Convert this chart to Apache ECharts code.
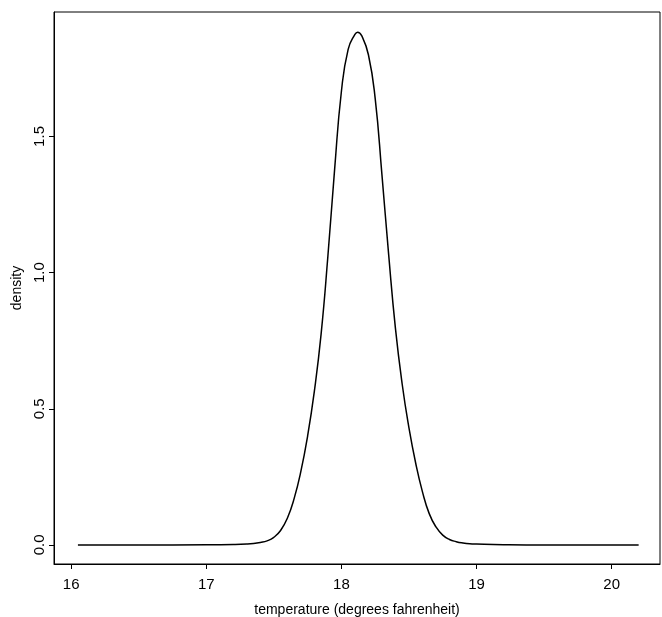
<!DOCTYPE html>
<html>
<head>
<meta charset="utf-8">
<script src="https://cdn.jsdelivr.net/npm/echarts@6/dist/echarts.min.js"></script>
<style>
  html, body { margin: 0; padding: 0; background: #fff; }
  #chart { width: 662px; height: 617px; }
</style>
</head>
<body>
<div id="chart"></div>
<script>
  // density curve
  var temps = [16.05, 16.5, 17.0, 17.2, 17.3, 17.35, 17.4, 17.45, 17.5, 17.55, 17.6, 17.65, 17.7, 17.75,
    17.8, 17.85, 17.9, 17.95, 18.0, 18.05, 18.1, 18.12, 18.15, 18.2, 18.25, 18.3, 18.35, 18.4,
    18.45, 18.5, 18.55, 18.6, 18.65, 18.7, 18.75, 18.8, 18.85, 18.9, 18.95, 19.0, 19.2, 19.5, 20.2];
  var density = [0, 0, 0.0005, 0.0015, 0.003, 0.005, 0.009, 0.015, 0.028, 0.053, 0.098, 0.170, 0.270, 0.400,
    0.565, 0.775, 1.060, 1.380, 1.665, 1.820, 1.875, 1.883, 1.870, 1.800, 1.640, 1.360, 1.065, 0.795,
    0.590, 0.430, 0.300, 0.195, 0.115, 0.066, 0.036, 0.020, 0.012, 0.007, 0.004, 0.003, 0.001, 0, 0];
  var xTicks = [16, 17, 18, 19, 20];
  var yTicks = [0, 0.5, 1.0, 1.5];

  var font = "'Liberation Sans', Arial, Helvetica, sans-serif";
  var chart = echarts.init(document.getElementById('chart'));

  chart.setOption({
    animation: false,
    grid: {
      left: 54, top: 12, right: 2, bottom: 53,
      outerBoundsMode: 'none',
      show: true, borderColor: '#000', borderWidth: 1
    },
    xAxis: {
      type: 'value',
      min: 15.873, max: 20.358,
      name: 'temperature (degrees fahrenheit)',
      nameLocation: 'middle',
      nameGap: 39,
      nameTextStyle: { color: '#000', fontFamily: font, fontSize: 14 },
      axisLine: { show: true, onZero: false, lineStyle: { color: '#000', width: 1 } },
      axisTick: { show: true, length: 5, customValues: xTicks, lineStyle: { color: '#000' } },
      axisLabel: { customValues: xTicks, color: '#000', fontFamily: font, fontSize: 15, margin: 13 },
      splitLine: { show: false }
    },
    yAxis: {
      type: 'value',
      min: -0.07, max: 1.957,
      name: 'density',
      nameLocation: 'middle',
      nameGap: 27,
      nameTextStyle: { color: '#000', fontFamily: font, fontSize: 14 },
      axisLine: { show: true, onZero: false, lineStyle: { color: '#000', width: 1 } },
      axisTick: { show: true, length: 5, customValues: yTicks, lineStyle: { color: '#000' } },
      axisLabel: {
        customValues: yTicks, rotate: 90, color: '#000', fontFamily: font, fontSize: 15, margin: 7,
        formatter: function (v) { return v.toFixed(1); }
      },
      splitLine: { show: false }
    },
    series: [{
      type: 'line',
      data: temps.map(function (t, i) { return [t, density[i]]; }),
      smooth: true,
      showSymbol: false,
      lineStyle: { color: '#000', width: 1.5 }
    }]
  });
</script>
</body>
</html>
